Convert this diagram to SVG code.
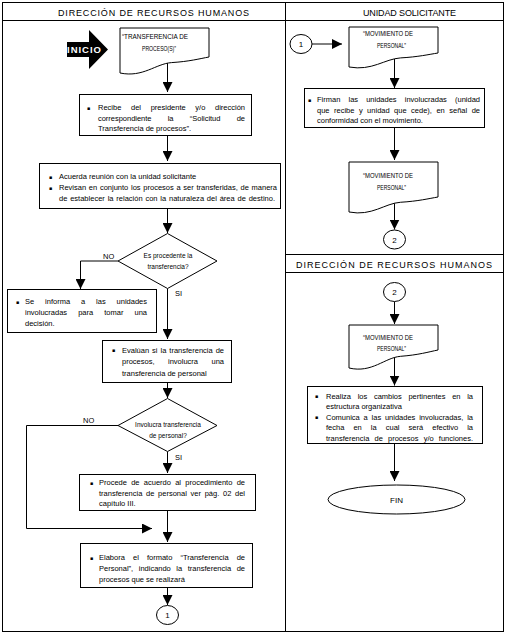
<svg xmlns="http://www.w3.org/2000/svg" width="506" height="634" viewBox="0 0 506 634">
<style>
.ln{fill:none;stroke:#000;stroke-width:1}
.sh{fill:#fff;stroke:#000;stroke-width:1}
.t{font-family:"Liberation Sans",Arial,sans-serif;font-size:7.5px;fill:#000}
.h{font-family:"Liberation Sans",Arial,sans-serif;font-size:9px;fill:#000}
.dt{font-family:"Liberation Sans",Arial,sans-serif;font-size:7.5px;fill:#000}
.dm{font-family:"Liberation Sans",Arial,sans-serif;font-size:6.5px;fill:#000;text-anchor:middle}
.c{font-family:"Liberation Sans",Arial,sans-serif;font-size:8px;fill:#000;text-anchor:middle}
.b{font-family:"DejaVu Sans",sans-serif;font-size:5px;fill:#000}
</style>
<defs>
<marker id="ah" viewBox="0 0 10 10" refX="10" refY="5" markerWidth="10" markerHeight="10" markerUnits="userSpaceOnUse" orient="auto"><path d="M0,0 L10,5 L0,10 z" fill="#000"/></marker>
</defs>
<rect width="506" height="634" fill="#fff"/>
<g id="lanes">
<rect class="ln" x="2.5" y="2.5" width="501" height="629"/>
<path class="ln" d="M285.5,2.5 V631.5 M2.5,20.5 H503.5 M285.5,254.5 H503.5 M285.5,272.5 H503.5"/>
<text class="h" x="58" y="15.5" textLength="191" lengthAdjust="spacing">DIRECCIÓN DE RECURSOS HUMANOS</text>
<text class="h" x="363" y="15.5" textLength="93" lengthAdjust="spacing">UNIDAD SOLICITANTE</text>
<text class="h" x="296" y="267.5" textLength="196" lengthAdjust="spacing">DIRECCIÓN DE RECURSOS HUMANOS</text>
</g>
<g id="connectors" class="ln" marker-end="url(#ah)">
<path d="M167.5,63 V92"/>
<path d="M167.5,135.5 V161"/>
<path d="M167.5,208.5 V233"/>
<path d="M118,261 H80.5 V289"/>
<path d="M167.5,288.5 V339"/>
<path d="M167.5,382.5 V398"/>
<path d="M118,425.5 H26.5 V528.5 H152"/>
<path d="M167.5,451.5 V473"/>
<path d="M167.5,510.5 V542"/>
<path d="M167.5,587.5 V605"/>
<path d="M312,44 H342"/>
<path d="M394.5,58 V88"/>
<path d="M394.5,127.5 V160"/>
<path d="M394.5,203 V229.5"/>
<path d="M394.5,301.5 V324"/>
<path d="M394.5,357 V385.5"/>
<path d="M394.5,443.5 V481"/>
</g>
<g id="inicio">
<polygon points="67,42 89,42 89,30 108,49.5 89,69 89,57 67,57" fill="#000"/>
<text x="67" y="53" textLength="34" lengthAdjust="spacing" style="font-family:'Liberation Sans',Arial,sans-serif;font-size:9.5px;font-weight:bold;fill:#fff">INICIO</text>
</g>
<g id="doc1">
<path class="sh" d="M120,28 H209 V57 C200.1,58.6 189.4,61.5 171.6,62.6 C155.6,63.7 143.1,77.8 120,73 Z"/>
<text class="dt" x="122" y="39" textLength="66" lengthAdjust="spacingAndGlyphs">“TRANSFERENCIA DE</text>
<text class="dt" x="142" y="51" textLength="34" lengthAdjust="spacingAndGlyphs">PROCESO(S)”</text>
</g>
<g id="box1">
<rect class="sh" x="79.5" y="94.5" width="172" height="41"/>
<text class="b" x="87" y="109.5">▪</text>
<text class="t" x="98" y="110" textLength="147" lengthAdjust="spacing" word-spacing="7.6">Recibe del presidente y/o dirección</text>
<text class="t" x="98" y="120.5" textLength="147" lengthAdjust="spacing" word-spacing="14.2">correspondiente la “Solicitud de</text>
<text class="t" x="98" y="131">Transferencia de procesos”.</text>
</g>
<g id="box2">
<rect class="sh" x="39.5" y="163.5" width="241" height="45"/>
<text class="b" x="49" y="178.5">▪</text>
<text class="t" x="59" y="179">Acuerda reunión con la unidad solicitante</text>
<text class="b" x="49" y="189.5">▪</text>
<text class="t" x="59" y="190" textLength="218" lengthAdjust="spacing" word-spacing="0.6">Revisan en conjunto los procesos a ser transferidas, de manera</text>
<text class="t" x="59" y="201" textLength="216" lengthAdjust="spacing" word-spacing="0.7">de establecer la relación con la naturaleza del área de destino.</text>
</g>
<g id="dec1">
<polygon class="sh" points="167.5,233.5 217,261 167.5,288.5 118,261"/>
<text class="dm" x="168" y="258">Es procedente la</text>
<text class="dm" x="168" y="268.5">transferencia?</text>
<text class="t" x="103" y="259">NO</text>
<text class="t" x="175" y="296">SI</text>
</g>
<g id="box3">
<rect class="sh" x="7.5" y="289.5" width="149" height="43"/>
<text class="b" x="16" y="303.5">▪</text>
<text class="t" x="25" y="304" textLength="122" lengthAdjust="spacing" word-spacing="8.8">Se informa a las unidades</text>
<text class="t" x="25" y="315" textLength="122" lengthAdjust="spacing" word-spacing="9">involucradas para tomar una</text>
<text class="t" x="25" y="326">decisión.</text>
</g>
<g id="box4">
<rect class="sh" x="102.5" y="340.5" width="129" height="42"/>
<text class="b" x="112" y="352">▪</text>
<text class="t" x="122" y="352.5" textLength="102" lengthAdjust="spacing" word-spacing="0.9">Evalúan si la transferencia de</text>
<text class="t" x="122" y="364" textLength="102" lengthAdjust="spacing" word-spacing="11.4">procesos, involucra una</text>
<text class="t" x="122" y="375.5">transferencia de personal</text>
</g>
<g id="dec2">
<polygon class="sh" points="167.5,398.5 217,425.5 167.5,451.5 118,425.5"/>
<text class="dm" x="168" y="427">Involucra transferencia</text>
<text class="dm" x="168" y="438">de personal?</text>
<text class="t" x="83" y="423">NO</text>
<text class="t" x="175" y="460">SI</text>
</g>
<g id="box5">
<rect class="sh" x="79.5" y="474.5" width="176" height="36"/>
<text class="b" x="90" y="484.5">▪</text>
<text class="t" x="99" y="485" textLength="146" lengthAdjust="spacing" word-spacing="2.2">Procede de acuerdo al procedimiento de</text>
<text class="t" x="99" y="495.5" textLength="146" lengthAdjust="spacing" word-spacing="1.6">transferencia de personal ver pág. 02 del</text>
<text class="t" x="99" y="506">capítulo III.</text>
</g>
<g id="box6">
<rect class="sh" x="80.5" y="543.5" width="172" height="44"/>
<text class="b" x="90" y="559.5">▪</text>
<text class="t" x="99" y="560" textLength="146" lengthAdjust="spacing" word-spacing="6">Elabora el formato “Transferencia de</text>
<text class="t" x="99" y="571" textLength="146" lengthAdjust="spacing" word-spacing="3.5">Personal”, indicando la transferencia de</text>
<text class="t" x="99" y="582">procesos que se realizará</text>
</g>
<g id="con1a">
<ellipse class="sh" cx="167.5" cy="615" rx="11" ry="9.5"/>
<text class="c" x="167.5" y="618">1</text>
</g>
<g id="con1b">
<ellipse class="sh" cx="301" cy="44" rx="11" ry="9.5"/>
<text class="c" x="301" y="47">1</text>
</g>
<g id="doc2">
<path class="sh" d="M349,27 H438 V53 C429.1,54.4 418.4,56.9 400.6,57.9 C384.6,58.9 372.1,71.2 349,67 Z"/>
<text class="dt" x="363" y="36" textLength="50" lengthAdjust="spacingAndGlyphs">“MOVIMIENTO DE</text>
<text class="dt" x="377" y="48" textLength="29" lengthAdjust="spacingAndGlyphs">PERSONAL”</text>
</g>
<g id="box7">
<rect class="sh" x="304.5" y="88.5" width="180" height="39"/>
<text class="b" x="308" y="101.5">▪</text>
<text class="t" x="317" y="102" textLength="163" lengthAdjust="spacing" word-spacing="6">Firman las unidades involucradas (unidad</text>
<text class="t" x="317" y="112.5" textLength="163" lengthAdjust="spacing" word-spacing="2.4">que recibe y unidad que cede), en señal de</text>
<text class="t" x="317" y="123">conformidad con el movimiento.</text>
</g>
<g id="doc3">
<path class="sh" d="M349,162 H438 V197 C429.1,198.5 418.4,201.2 400.6,202.25 C384.6,203.3 372.1,216.5 349,212 Z"/>
<text class="dt" x="363" y="178" textLength="50" lengthAdjust="spacingAndGlyphs">“MOVIMIENTO DE</text>
<text class="dt" x="377" y="190" textLength="29" lengthAdjust="spacingAndGlyphs">PERSONAL”</text>
</g>
<g id="con2a">
<ellipse class="sh" cx="394.5" cy="239.5" rx="11" ry="9.5"/>
<text class="c" x="394.5" y="242.5">2</text>
</g>
<g id="con2b">
<ellipse class="sh" cx="394.5" cy="292" rx="11" ry="9.5"/>
<text class="c" x="394.5" y="295">2</text>
</g>
<g id="doc4">
<path class="sh" d="M349,325 H438 V350 C429.1,351.8 418.4,355 400.6,356.3 C384.6,357.6 372.1,373.4 349,368 Z"/>
<text class="dt" x="363" y="340" textLength="50" lengthAdjust="spacingAndGlyphs">“MOVIMIENTO DE</text>
<text class="dt" x="377" y="351" textLength="29" lengthAdjust="spacingAndGlyphs">PERSONAL”</text>
</g>
<g id="box8">
<rect class="sh" x="307.5" y="386.5" width="175" height="57"/>
<text class="b" x="315" y="398">▪</text>
<text class="t" x="326" y="398.5" textLength="147" lengthAdjust="spacing" word-spacing="4.6">Realiza los cambios pertinentes en la</text>
<text class="t" x="326" y="409">estructura organizativa</text>
<text class="b" x="315" y="419">▪</text>
<text class="t" x="326" y="419.5" textLength="147" lengthAdjust="spacing" word-spacing="1.7">Comunica a las unidades involucradas, la</text>
<text class="t" x="326" y="430" textLength="147" lengthAdjust="spacing" word-spacing="7">fecha en la cual será efectivo la</text>
<text class="t" x="326" y="440.5" textLength="147" lengthAdjust="spacing" word-spacing="3.1">transferencia de procesos y/o funciones.</text>
</g>
<g id="fin">
<ellipse class="sh" cx="396.5" cy="499.5" rx="68.5" ry="14.5"/>
<text class="c" x="396.5" y="502.5">FIN</text>
</g>
</svg>
